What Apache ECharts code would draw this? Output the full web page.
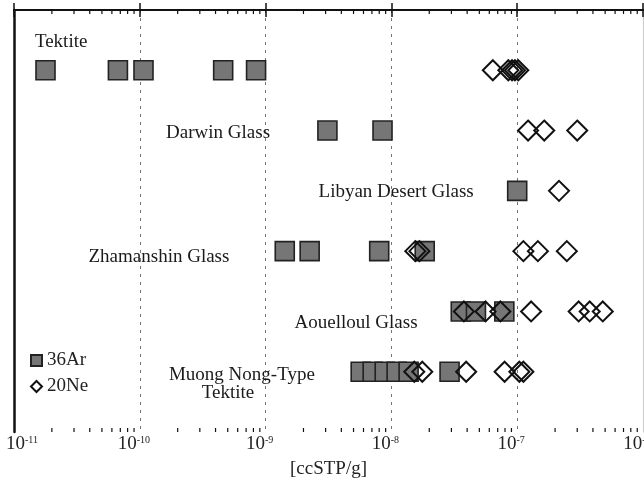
<!DOCTYPE html>
<html>
<head>
<meta charset="utf-8">
<script src="https://cdn.jsdelivr.net/npm/echarts@6/dist/echarts.min.js"></script>
<style>
html, body { margin: 0; padding: 0; background: #fff; }
#chart { width: 644px; height: 481px; }
</style>
</head>
<body>
<div id="chart"></div>
<script>
// Noble-gas concentrations in impact glasses and tektites [ccSTP/g]
// Rows, top to bottom
const groups = ['Tektite', 'Darwin Glass', 'Libyan Desert Glass', 'Zhamanshin Glass', 'Aouelloul Glass', 'Muong Nong-Type Tektite'];

// 36Ar per row
const ar36 = [
  [1.78e-11, 6.7e-11, 1.07e-10, 4.6e-10, 8.4e-10],
  [3.1e-9, 8.5e-9],
  [1.0e-7],
  [1.42e-9, 2.24e-9, 8.0e-9, 1.84e-8],
  [3.56e-8, 4.7e-8, 7.9e-8],
  [5.7e-9, 7.1e-9, 8.85e-9, 1.1e-8, 1.37e-8, 2.9e-8]
];

// 20Ne per row
const ne20 = [
  [6.4e-8, 8.5e-8, 9.1e-8, 9.6e-8, 1.02e-7],
  [1.22e-7, 1.64e-7, 3.0e-7],
  [2.15e-7],
  [1.55e-8, 1.67e-8, 1.12e-7, 1.46e-7, 2.48e-7],
  [3.77e-8, 5.6e-8, 7.35e-8, 1.29e-7, 3.08e-7, 3.77e-7, 4.79e-7],
  [1.52e-8, 1.76e-8, 3.93e-8, 7.94e-8, 1.04e-7, 1.12e-7]
];

// Axis range (decades)
const xMin = 1e-11;
const xMax = 1e-6;
const axisName = '[ccSTP/g]';

const FONT = '"Liberation Serif", "Times New Roman", serif';

// Where each row's caption sits, in axis units
const captionAnchors = [
  { text: 'Tektite', x: 2.37e-11, y: 0.53 },
  { text: 'Darwin Glass', x: 4.19e-10, y: 2.04 },
  { text: 'Libyan Desert Glass', x: 1.09e-8, y: 3.02 },
  { text: 'Zhamanshin Glass', x: 1.42e-10, y: 4.10 },
  { text: 'Aouelloul Glass', x: 5.24e-9, y: 5.19 },
  { text: 'Muong Nong-Type', x: 6.48e-10, y: 6.05 },
  { text: 'Tektite', x: 5.02e-10, y: 6.35 }
];

// rows are numbered 1..n from the top
const toPoints = (rows) => rows.flatMap((vals, i) => vals.map(v => [v, i + 1]));

// minor tick positions 2..9 within each decade
const minorTickValues = [];
for (let k = Math.log10(xMin); k < Math.log10(xMax); k++) {
  for (let m = 2; m <= 9; m++) minorTickValues.push([m * Math.pow(10, k), 0]);
}

// "10" with a raised exponent; the first label is nudged inward so it stays on the page
const minExp = Math.round(Math.log10(xMin));
const supLabel = (v) => {
  const e = Math.round(Math.log10(v));
  const txt = '{b|10}{s|' + (e < 0 ? '-' + (-e) : e) + '}';
  return e === minExp ? '{g| }' + txt : txt;
};

const chart = echarts.init(document.getElementById('chart'), null, { renderer: 'canvas' });

chart.setOption({
  animation: false,
  backgroundColor: '#fff',
  grid: { left: 14, right: 1, top: 10, bottom: 49, containLabel: false, outerBoundsMode: 'none' },
  legend: {
    data: ['36Ar', '20Ne'],
    orient: 'vertical',
    left: 30,
    top: 351,
    padding: 0,
    itemGap: 7,
    itemWidth: 11,
    itemHeight: 11,
    selectedMode: false,
    textStyle: { fontFamily: FONT, fontSize: 19, color: '#222' }
  },
  xAxis: [
    {
      type: 'log',
      logBase: 10,
      min: xMin,
      max: xMax,
      position: 'bottom',
      name: axisName,
      nameLocation: 'middle',
      nameGap: 28,
      nameTextStyle: { fontFamily: FONT, fontSize: 19, color: '#222', verticalAlign: 'top' },
      axisLine: { show: true, lineStyle: { color: '#111', width: 2 } },
      axisTick: { show: true, inside: true, length: 7, lineStyle: { color: '#111', width: 1.5 } },
      splitLine: { show: true, lineStyle: { color: '#777', width: 1, type: [3, 5] } },
      axisLabel: {
        show: true,
        margin: 3,
        padding: [0, 12, 0, 0],
        showMinLabel: true,
        showMaxLabel: true,
        hideOverlap: false,
        formatter: supLabel,
        rich: {
          g: { width: 28, fontSize: 10 },
          b: { fontFamily: FONT, fontSize: 19, color: '#222' },
          s: { fontFamily: FONT, fontSize: 10, color: '#222', padding: [0, 0, 9, 0] }
        }
      }
    },
    {
      type: 'log',
      logBase: 10,
      min: xMin,
      max: xMax,
      position: 'top',
      axisLine: { show: true, lineStyle: { color: '#111', width: 2 } },
      axisTick: { show: true, inside: true, length: 7, lineStyle: { color: '#111', width: 1.5 } },
      axisLabel: { show: false },
      splitLine: { show: false }
    }
  ],
  yAxis: [
    {
      type: 'value',
      min: 0,
      max: groups.length + 1,
      inverse: true,
      position: 'left',
      axisLine: { show: true, lineStyle: { color: '#111', width: 2.5 } },
      axisTick: { show: false },
      axisLabel: { show: false },
      splitLine: { show: false }
    },
    {
      type: 'value',
      min: 0,
      max: groups.length + 1,
      inverse: true,
      position: 'right',
      axisLine: { show: true, lineStyle: { color: '#ccc', width: 1 } },
      axisTick: { show: false },
      axisLabel: { show: false },
      splitLine: { show: false }
    }
  ],
  series: [
    {
      // minor ticks on top and bottom frame
      type: 'custom',
      silent: true,
      z: 5,
      data: minorTickValues,
      encode: { x: 0, y: 1 },
      renderItem: function (params, api) {
        const x = api.coord([api.value(0), 1])[0];
        const cs = params.coordSys;
        const yb = cs.y + cs.height;
        return {
          type: 'group',
          children: [
            { type: 'line', shape: { x1: x, y1: yb, x2: x, y2: yb - 4 }, style: { stroke: '#111', lineWidth: 1.2 } },
            { type: 'line', shape: { x1: x, y1: cs.y, x2: x, y2: cs.y + 4 }, style: { stroke: '#111', lineWidth: 1.2 } }
          ]
        };
      }
    },
    {
      name: '36Ar',
      type: 'scatter',
      symbol: 'rect',
      symbolSize: 19,
      z: 3,
      data: toPoints(ar36),
      itemStyle: { color: '#767676', borderColor: '#222', borderWidth: 1.6, opacity: 1 }
    },
    {
      name: '20Ne',
      type: 'scatter',
      symbol: 'diamond',
      symbolSize: 20,
      z: 4,
      data: toPoints(ne20),
      itemStyle: { color: 'rgba(0,0,0,0)', borderColor: '#111', borderWidth: 2, opacity: 1 }
    },
    {
      // row captions
      type: 'scatter',
      symbolSize: 0,
      silent: true,
      z: 6,
      itemStyle: { opacity: 1 },
      data: captionAnchors.map(c => ({ value: [c.x, c.y], label: { formatter: c.text } })),
      label: {
        show: true,
        position: 'inside',
        fontFamily: FONT,
        fontSize: 19,
        color: '#1a1a1a'
      }
    }
  ]
});
</script>
</body>
</html>
